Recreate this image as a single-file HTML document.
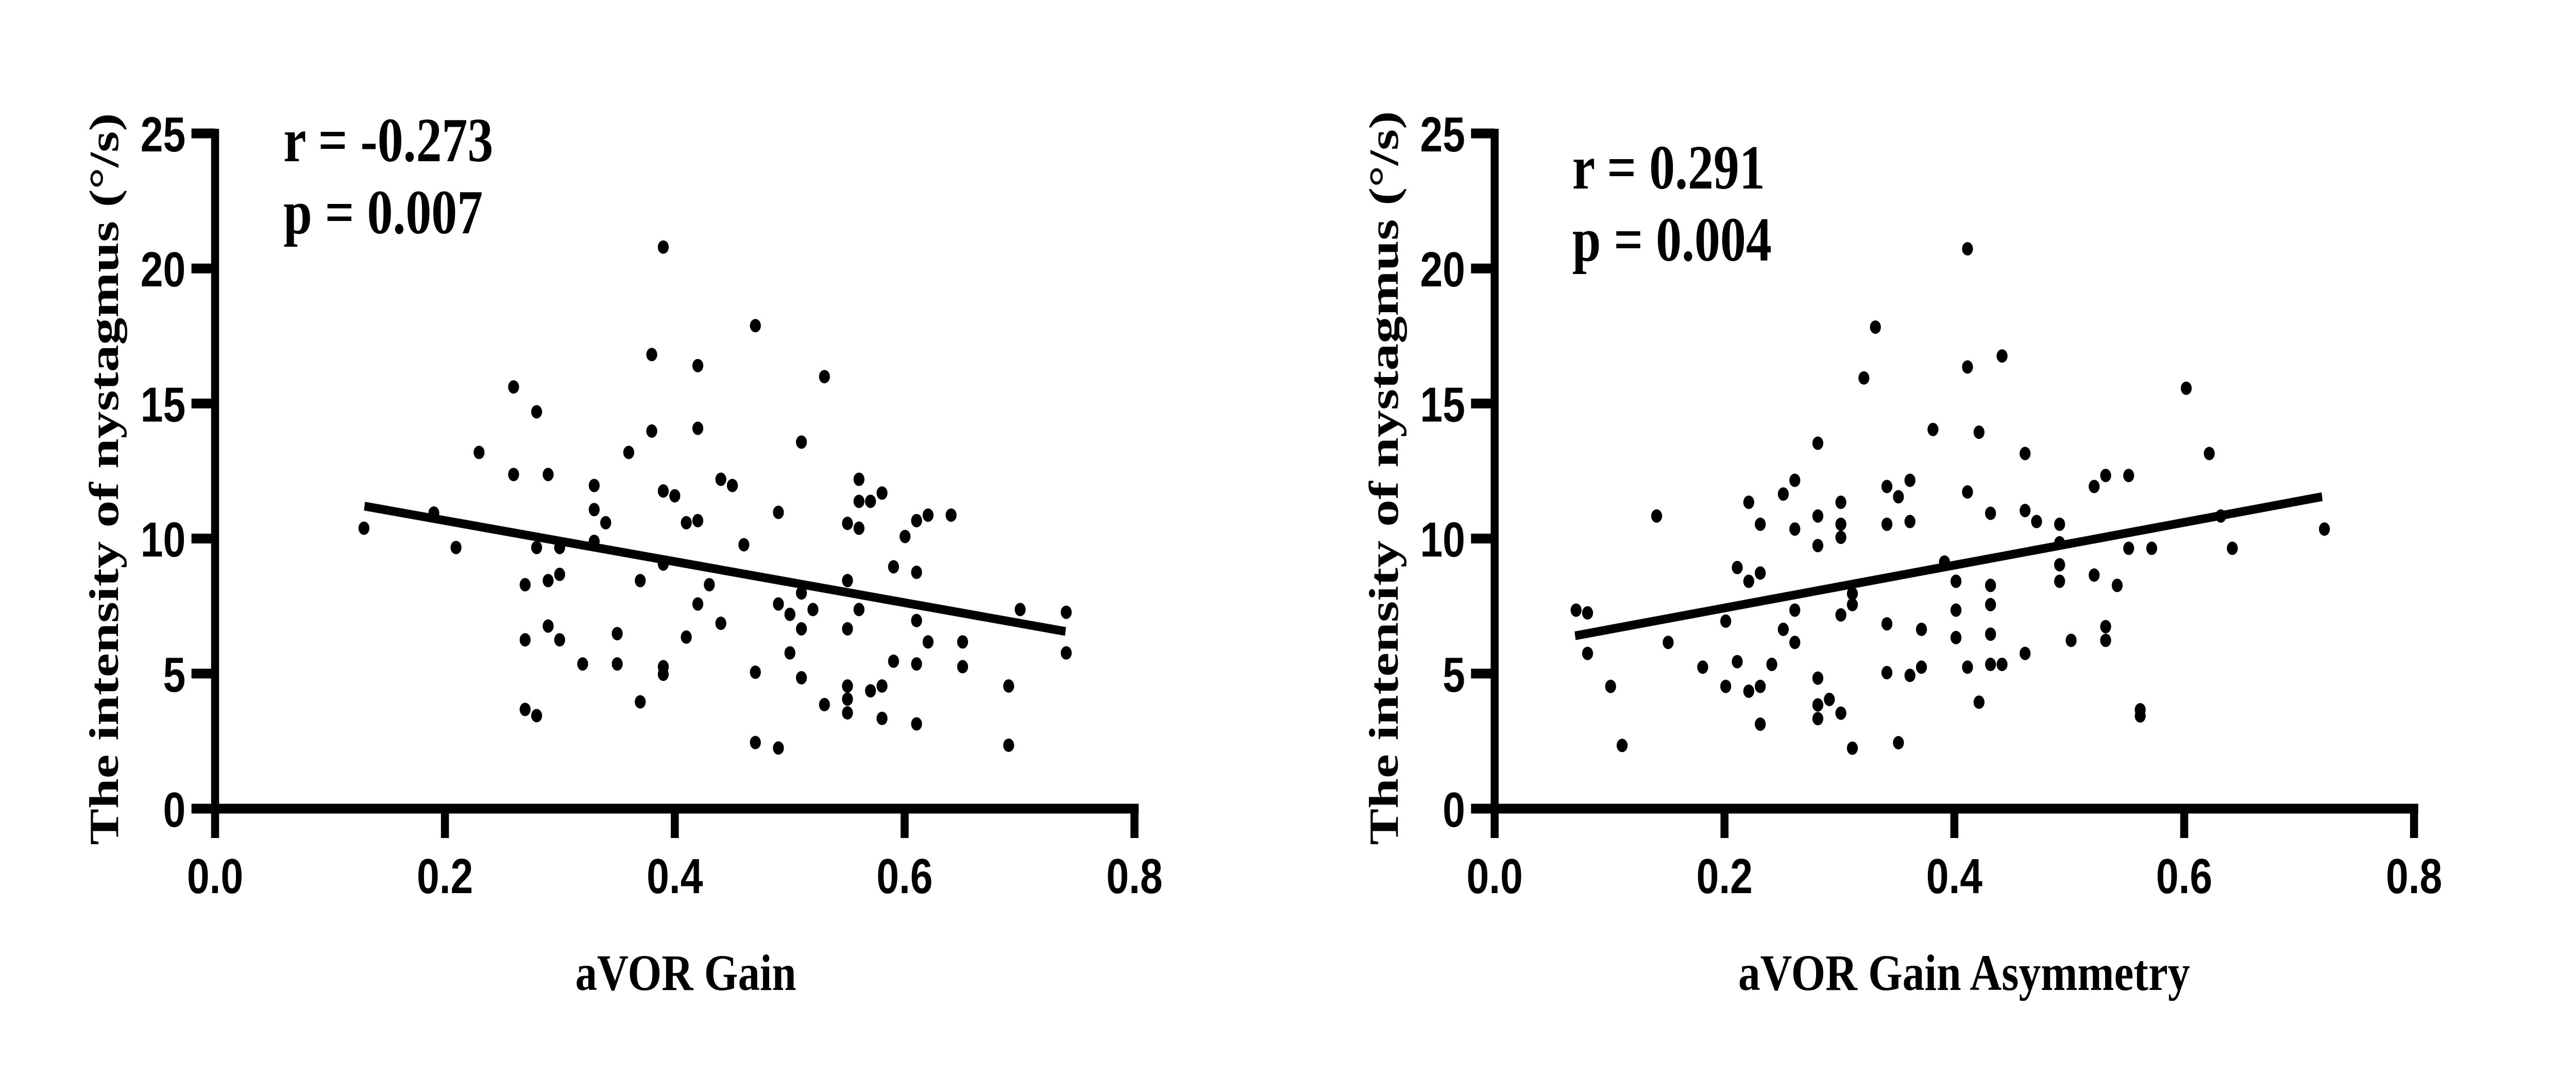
<!DOCTYPE html>
<html><head><meta charset="utf-8"><style>
html,body{margin:0;padding:0;background:#fff;width:100%;height:100%;overflow:hidden;}
svg{display:block;width:100vw;height:100vh;}
.t{font-family:"Liberation Sans",Arial,sans-serif;font-weight:bold;font-size:96px;}
.s{font-family:"Liberation Serif","Times New Roman",serif;font-weight:bold;}
</style></head><body>
<svg id="c" xmlns="http://www.w3.org/2000/svg" viewBox="0 0 6108 2091" preserveAspectRatio="none">
<rect width="6108" height="2091" fill="#fff"/>
<g id="L"></g>
<g id="R"></g>
<text class="s" font-size="122" x="672" y="313">r = -0.273</text>
<text class="s" font-size="122" x="672" y="453">p = 0.007</text>
<text class="s" font-size="122" x="3728" y="366">r = 0.291</text>
<text class="s" font-size="122" x="3728" y="506">p = 0.004</text>
<text class="s" font-size="98" text-anchor="middle" transform="translate(280,930) rotate(-90)" textLength="1421" lengthAdjust="spacingAndGlyphs">The intensity of nystagmus (°/s)</text>
<text class="s" font-size="98" text-anchor="middle" transform="translate(3314,928) rotate(-90)" textLength="1425" lengthAdjust="spacingAndGlyphs">The intensity of nystagmus (°/s)</text>
<text class="s" font-size="100" text-anchor="middle" x="1626" y="1922" textLength="524" lengthAdjust="spacingAndGlyphs">aVOR Gain</text>
<text class="s" font-size="100" text-anchor="middle" x="4657" y="1922" textLength="1071" lengthAdjust="spacingAndGlyphs">aVOR Gain Asymmetry</text>
</svg>
<script>
var NS="http://www.w3.org/2000/svg";
function el(g,n,a,t){var e=document.createElementNS(NS,n);for(var k in a)e.setAttribute(k,a[k]);if(t!==undefined)e.textContent=t;g.appendChild(e);return e;}
function panel(id,x0,lblR,pts,zx0,zy0,zyspan,line){
 var g=document.getElementById(id);
 var y0=1570,yU=(1570-259)/25,xU=2180/0.8;
 el(g,"line",{x1:x0,y1:250,x2:x0,y2:1580,stroke:"#000","stroke-width":19});
 el(g,"line",{x1:x0-10,y1:y0,x2:x0+2180+10,y2:y0,stroke:"#000","stroke-width":19});
 for(var i=0;i<=5;i++){var y=y0-i*5*yU;
  el(g,"line",{x1:x0-56,y1:y,x2:x0,y2:y,stroke:"#000","stroke-width":19});
  el(g,"text",{"class":"t",x:lblR,y:y+35,"text-anchor":"end"},String(i*5));}
 for(var i=0;i<=4;i++){var x=x0+i*545;
  el(g,"line",{x1:x,y1:y0,x2:x,y2:1627,stroke:"#000","stroke-width":19});
  el(g,"text",{"class":"t",x:x,y:1734,"text-anchor":"middle"},(i*0.2).toFixed(1));}
 el(g,"line",{x1:x0+line[0]*xU,y1:y0-line[1]*yU,x2:x0+line[2]*xU,y2:y0-line[3]*yU,stroke:"#000","stroke-width":17});
 for(var j=0;j<pts.length;j++){var p=pts[j];
  var X=x0+(p[0]-zx0)*(2180/1118),Y=y0-(zy0-p[1])/zyspan*(1311);
  el(g,"circle",{cx:X,cy:Y,r:13,fill:"#000"});}
}
var PL=[[443,768],[528,746],[555,796],[583,658],[625,563],[625,690],[639,850],[639,930],[639,1031],[653,599],[653,796],[653,1040],[667,690],[667,844],[667,910],[681,796],[681,835],[681,930],[709,965],[723,706],[723,741],[723,787],[737,760],[751,921],[751,965],[765,658],[779,844],[779,1020],[793,516],[793,627],[807,714],[807,820],[807,969],[807,980],[807,360],[821,721],[835,760],[835,926],[849,532],[849,623],[849,757],[849,878],[863,850],[877,697],[877,906],[891,706],[905,792],[919,474],[919,977],[919,1079],[947,745],[947,878],[947,1087],[961,893],[961,949],[975,862],[975,914],[975,985],[975,643],[989,886],[1003,548],[1003,1024],[1031,761],[1031,844],[1031,914],[1031,997],[1031,1016],[1031,1036],[1045,697],[1045,729],[1045,768],[1045,886],[1059,729],[1059,1004],[1073,717],[1073,997],[1073,1044],[1087,824],[1087,961],[1101,780],[1115,757],[1115,832],[1115,902],[1115,965],[1115,1052],[1129,749],[1129,933],[1157,749],[1171,933],[1171,969],[1227,997],[1227,1083],[1241,886],[1297,890],[1297,949]];
var PR=[[349,886],[363,890],[363,949],[391,997],[405,1083],[447,749],[461,933],[503,969],[531,902],[531,997],[545,824],[545,961],[559,729],[559,844],[559,1004],[573,761],[573,832],[573,997],[573,1052],[587,965],[601,717],[601,914],[615,697],[615,768],[615,886],[615,933],[643,643],[643,749],[643,792],[643,985],[643,1024],[643,1044],[657,1016],[671,729],[671,761],[671,780],[671,893],[671,1036],[685,862],[685,878],[685,1087],[699,548],[713,474],[727,706],[727,761],[727,906],[727,977],[741,721],[741,1079],[755,697],[755,757],[755,981],[769,914],[769,969],[783,623],[797,816],[811,844],[811,886],[811,926],[825,360],[825,532],[825,714],[825,969],[839,627],[839,1020],[853,745],[853,850],[853,878],[853,921],[853,965],[867,516],[867,965],[895,658],[895,741],[895,949],[909,757],[937,761],[937,788],[937,820],[937,844],[951,930],[979,706],[979,835],[993,690],[993,910],[993,930],[1007,850],[1021,690],[1021,796],[1035,1031],[1035,1040],[1049,796],[1091,563],[1119,658],[1133,749],[1147,796],[1259,768]];
panel("L",510,440,PL,262,1175,980,[0.13,11.2,0.74,6.56]);
panel("R",3544,3474,PR,250,1175,983,[0.07,6.4,0.72,11.55]);
</script>
</body></html>
